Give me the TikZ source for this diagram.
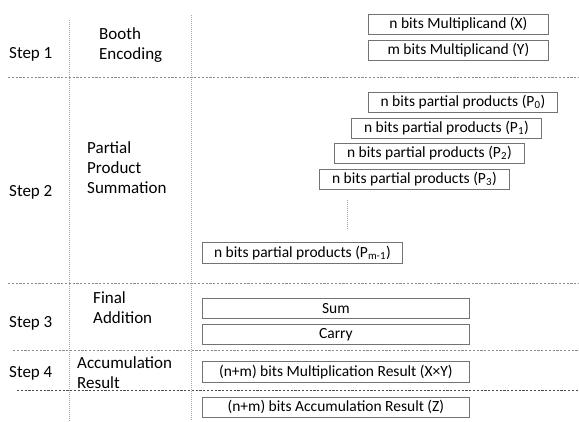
\documentclass[tikz,border=0pt]{standalone}
\usepackage{fontspec}
\setmainfont{Carlito}
\begin{document}
\begin{tikzpicture}[x=1pt,y=-1pt,
  bx/.style={draw=black!55, line width=0.8pt, inner sep=0pt, anchor=north west,
    font=\fontsize{15.5}{18}\selectfont, text=black},
  lbl/.style={inner sep=0pt, anchor=west, align=left,
    font=\fontsize{17}{20}\selectfont, text=black},
  sep/.style={draw=black!45, line width=0.6pt, dash pattern=on 2.2pt off 1.6pt},
  col/.style={draw=black!35, line width=0.6pt, dash pattern=on 1pt off 1pt}]
\useasboundingbox (0,0) rectangle (579,421);
\fill[white] (0,0) rectangle (579,421);

% column separators
\draw[col] (69,20) -- (69,421);
\draw[col] (191,15) -- (191,421);

% row separators
\draw[sep] (8,77) -- (579,77);
\draw[sep] (8,283) -- (579,283);
\draw[sep] (13,350) -- (579,350);
\draw[sep, draw=black!70] (17,390) -- (579,390);

% step labels
\node[lbl] (s1) at (9,54) {Step 1};
\node[lbl] (s2) at (9,192) {Step 2};
\node[lbl] (s3) at (9,323) {Step 3};
\node[lbl] (s4) at (9,373) {Step 4};

% stage names
\node[lbl] (t1) at (99,45) {Booth\\Encoding};
\node[lbl] (t2) at (87,168) {Partial\\Product\\Summation};
\node[lbl] (t3) at (93,308) {Final\\Addition};
\node[lbl] (t4) at (77,373) {Accumulation\\Result};

% operands
\node[bx, minimum width=180pt, minimum height=20pt] (x) at (368,14) {n bits Multiplicand (X)};
\node[bx, minimum width=180pt, minimum height=20pt] (y) at (368,40) {m bits Multiplicand (Y)};

% partial products
\node[bx, minimum width=189pt, minimum height=20pt] (p0) at (368,92) {n bits partial products (P\textsubscript{0})};
\node[bx, minimum width=190pt, minimum height=20pt] (p1) at (351,118) {n bits partial products (P\textsubscript{1})};
\node[bx, minimum width=190pt, minimum height=20pt] (p2) at (334,143) {n bits partial products (P\textsubscript{2})};
\node[bx, minimum width=190pt, minimum height=20pt] (p3) at (319,169) {n bits partial products (P\textsubscript{3})};
\coordinate (d1) at (347,200);
\coordinate (d2) at (347,230);
\draw[col] (d1) -- (d2);
\node[bx, minimum width=200pt, minimum height=21pt] (pm) at (202,242) {n bits partial products (P\textsubscript{m-1})};

% final addition
\node[bx, minimum width=267pt, minimum height=20pt] (sum) at (202,298) {Sum};
\node[bx, minimum width=267pt, minimum height=20pt] (carry) at (202,324) {Carry};

% results
\node[bx, minimum width=267pt, minimum height=21pt] (mul) at (202,361) {(n+m) bits Multiplication Result (X×Y)};
\node[bx, minimum width=267pt, minimum height=20pt] (acc) at (202,397) {(n+m) bits Accumulation Result (Z)};
\end{tikzpicture}
\end{document}
